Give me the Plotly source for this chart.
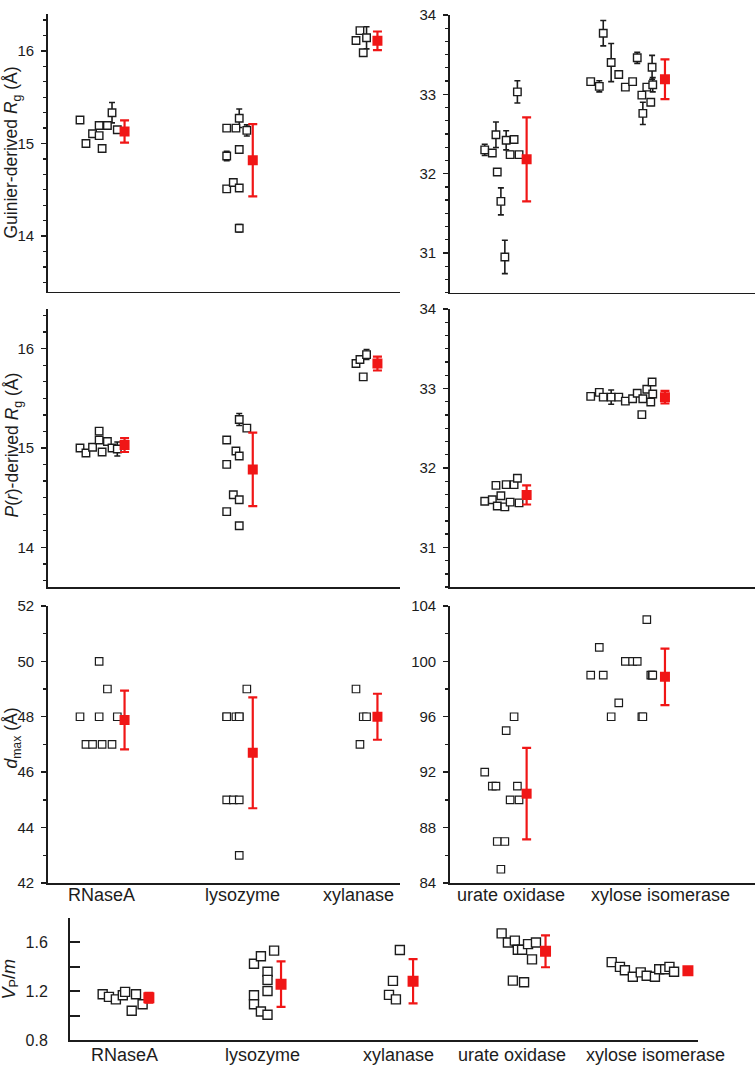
import plotly.graph_objects as go

# ---------------- DATA ----------------
left_proteins = ["RNaseA", "lysozyme", "xylanase"]
right_proteins = ["urate oxidase", "xylose isomerase"]
all_proteins = ["RNaseA", "lysozyme", "xylanase", "urate oxidase", "xylose isomerase"]

# dataset (lab) position inside each protein group, panels 1-3
rnase_slot = [0, 1.8, 3.8, 5.8, 5.8, 6.7, 8.3, 9.7, 11.3]
lyso_slot = [0, 0, 0, 2, 2.8, 3.8, 3.8, 3.8, 3.8, 6.1]
xylan_slot = [0, 1.2, 2.2, 3.2]
urate_slot = [0, 2.3, 3.4, 3.8, 4.9, 6.1, 6.5, 7.7, 8.9, 9.9, 10.4]
xyliso_slot = [0, 2.6, 3.8, 6.2, 8.5, 10.5, 12.7, 14.1, 15.5, 15.8, 17, 18.2, 18.6, 18.8]

# Guinier-derived Rg (A)
rnase_guinier = [15.255, 15.00, 15.106, 15.195, 15.085, 14.947, 15.195, 15.333, 15.149]
rnase_guinier_err = [0.03, 0.02, 0.02, 0.04, 0.03, 0.03, 0.03, 0.11, 0.03]
lyso_guinier = [15.167, 14.865, 14.51, 14.58, 15.167, 15.273, 14.936, 14.52, 14.085, 15.142]
lyso_guinier_err = [0.02, 0.05, 0.03, 0.04, 0.03, 0.10, 0.03, 0.03, 0.04, 0.06]
xylan_guinier = [16.113, 16.22, 15.98, 16.142]
xylan_guinier_err = [0.03, 0.03, 0.03, 0.12]
urate_guinier = [32.30, 32.26, 32.49, 32.02, 31.65, 30.95, 32.42, 32.24, 32.43, 33.03, 32.24]
urate_guinier_err = [0.07, 0.04, 0.16, 0.04, 0.17, 0.21, 0.12, 0.04, 0.04, 0.14, 0.03]
xyliso_guinier = [33.16, 33.10, 33.77, 33.40, 33.25, 33.09, 33.16, 33.46, 32.99, 32.76, 33.09, 32.90, 33.34, 33.12]
xyliso_guinier_err = [0.03, 0.07, 0.16, 0.24, 0.03, 0.03, 0.03, 0.07, 0.04, 0.14, 0.04, 0.04, 0.15, 0.09]
guinier_mean = [15.13, 14.82, 16.11, 32.18, 33.19]
guinier_sd = [0.12, 0.39, 0.10, 0.53, 0.25]

# P(r)-derived Rg (A)
rnase_pr = [15.0, 14.95, 15.007, 15.17, 15.08, 14.96, 15.066, 15.0, 14.99]
rnase_pr_err = [0.02, 0.02, 0.02, 0.03, 0.02, 0.02, 0.02, 0.02, 0.07]
lyso_pr = [15.08, 14.835, 14.36, 14.53, 14.97, 15.287, 14.92, 14.48, 14.218, 15.20]
lyso_pr_err = [0.02, 0.03, 0.02, 0.03, 0.02, 0.06, 0.02, 0.02, 0.02, 0.03]
xylan_pr = [15.85, 15.89, 15.716, 15.94]
xylan_pr_err = [0.02, 0.02, 0.02, 0.05]
urate_pr = [31.58, 31.60, 31.78, 31.52, 31.65, 31.51, 31.79, 31.57, 31.79, 31.87, 31.56]
urate_pr_err = [0.02, 0.02, 0.03, 0.02, 0.03, 0.02, 0.02, 0.02, 0.02, 0.03, 0.02]
xyliso_pr = [32.90, 32.95, 32.89, 32.89, 32.89, 32.84, 32.87, 32.94, 32.67, 32.87, 32.99, 32.83, 33.08, 32.93]
xyliso_pr_err = [0.03, 0.02, 0.02, 0.09, 0.02, 0.02, 0.02, 0.02, 0.02, 0.03, 0.03, 0.02, 0.03, 0.02]
pr_mean = [15.03, 14.785, 15.85, 31.66, 32.89]
pr_sd = [0.07, 0.37, 0.07, 0.12, 0.08]

# dmax (A)
rnase_dmax = [48, 47, 47, 50, 48, 47, 49, 47, 48]
lyso_dmax = [48, 48, 45, 45, 48, 48, 45, 43, 48, 49]
xylan_dmax = [49, 47, 48, 48]
urate_dmax = [92, 91, 91, 87, 85, 87, 95, 90, 96, 91, 90]
xyliso_dmax = [99, 101, 99, 96, 97, 100, 100, 100, 96, 96, 103, 99, 99, 99]
dmax_mean = [47.88, 46.7, 48.0, 90.45, 98.88]
dmax_sd = [1.06, 2.0, 0.83, 3.3, 2.04]

# Vp/m (bottom panel)
rnase_vpm_slot = [0, 1.9, 4, 6.1, 6.8, 8.8, 10.1, 12.1]
rnase_vpm = [1.176, 1.155, 1.134, 1.168, 1.195, 1.041, 1.176, 1.094]
lyso_vpm_slot = [0, 0, 0, 2.1, 2.1, 4.1, 4.1, 4.1, 4.1, 6.1]
lyso_vpm = [1.425, 1.168, 1.094, 1.486, 1.036, 1.359, 1.293, 1.203, 1.009, 1.531]
xylan_vpm_slot = [0, 1.2, 2.1, 3.3]
xylan_vpm = [1.171, 1.285, 1.134, 1.536]
urate_vpm_slot = [0, 1.9, 3.4, 4, 4.9, 6.2, 6.8, 8, 9.2, 10.4]
urate_vpm = [1.672, 1.597, 1.287, 1.613, 1.539, 1.539, 1.274, 1.584, 1.46, 1.597]
xyliso_vpm_slot = [0, 2.5, 4, 6.4, 8.8, 10.6, 13.1, 14.4, 16.2, 17.5, 18.9]
xyliso_vpm = [1.438, 1.399, 1.372, 1.319, 1.354, 1.327, 1.319, 1.380, 1.380, 1.399, 1.359]
vpm_mean = [1.147, 1.258, 1.282, 1.526, 1.367]
vpm_sd = [0.04, 0.185, 0.18, 0.13, 0.03]

# ---------------- LAYOUT CONSTANTS ----------------
W, H = 756, 1074
SLOT_PX = 3.3
FONT = "Liberation Sans, Arial, sans-serif"
INK = "#1c1c1c"
RED = "#f01616"

LEFT_BASE = [9.70, 54.15, 93.33]
LEFT_RED = [13.5, 7.9, 6.5]
RIGHT_BASE = [10.52, 42.64]
RIGHT_RED = [12.7, 22.5]
BOT_BASE = [9.9, 55.75, 96.66, 130.8, 164.15]
BOT_RED = [14.0, 8.2, 7.3, 13.3, 23.1]


def xd(a, b):
    return [a / W, b / W]


def yd(top, bot):
    return [1 - bot / H, 1 - top / H]


fig = go.Figure()


def add_group(k, base, slots, vals, errs, red_off, mean, sd, msize=7.5, rsize=10, lw=1.4):
    ax = "" if k == 1 else str(k)
    xs = [base + s for s in slots]
    ey = dict(type="data", array=errs, color=INK, thickness=1.6, width=3) if errs else dict(visible=False)
    fig.add_trace(go.Scatter(
        x=xs, y=vals, mode="markers", xaxis="x" + ax, yaxis="y" + ax,
        marker=dict(symbol="square", size=msize, color="white", line=dict(color=INK, width=lw)),
        error_y=ey, showlegend=False, hoverinfo="skip"))
    fig.add_trace(go.Scatter(
        x=[base + red_off], y=[mean], mode="markers", xaxis="x" + ax, yaxis="y" + ax,
        marker=dict(symbol="square", size=rsize, color=RED, line=dict(width=0)),
        error_y=dict(type="data", array=[sd], color=RED, thickness=2.2, width=4.5),
        showlegend=False, hoverinfo="skip"))


# panel 1 (Guinier)
L_g = [(rnase_slot, rnase_guinier, rnase_guinier_err), (lyso_slot, lyso_guinier, lyso_guinier_err),
       (xylan_slot, xylan_guinier, xylan_guinier_err)]
R_g = [(urate_slot, urate_guinier, urate_guinier_err), (xyliso_slot, xyliso_guinier, xyliso_guinier_err)]
for i, (s, v, e) in enumerate(L_g):
    add_group(1, LEFT_BASE[i], s, v, e, LEFT_RED[i], guinier_mean[i], guinier_sd[i])
for i, (s, v, e) in enumerate(R_g):
    add_group(2, RIGHT_BASE[i], s, v, e, RIGHT_RED[i], guinier_mean[3 + i], guinier_sd[3 + i])

# panel 2 (P(r))
L_p = [(rnase_slot, rnase_pr, rnase_pr_err), (lyso_slot, lyso_pr, lyso_pr_err), (xylan_slot, xylan_pr, xylan_pr_err)]
R_p = [(urate_slot, urate_pr, urate_pr_err), (xyliso_slot, xyliso_pr, xyliso_pr_err)]
for i, (s, v, e) in enumerate(L_p):
    add_group(3, LEFT_BASE[i], s, v, e, LEFT_RED[i], pr_mean[i], pr_sd[i])
for i, (s, v, e) in enumerate(R_p):
    add_group(4, RIGHT_BASE[i], s, v, e, RIGHT_RED[i], pr_mean[3 + i], pr_sd[3 + i])

# panel 3 (dmax)
L_d = [(rnase_slot, rnase_dmax), (lyso_slot, lyso_dmax), (xylan_slot, xylan_dmax)]
R_d = [(urate_slot, urate_dmax), (xyliso_slot, xyliso_dmax)]
for i, (s, v) in enumerate(L_d):
    add_group(5, LEFT_BASE[i], s, v, None, LEFT_RED[i], dmax_mean[i], dmax_sd[i], lw=1.2)
for i, (s, v) in enumerate(R_d):
    add_group(6, RIGHT_BASE[i], s, v, None, RIGHT_RED[i], dmax_mean[3 + i], dmax_sd[3 + i], lw=1.2)

# bottom (Vp/m)
B_v = [(rnase_vpm_slot, rnase_vpm), (lyso_vpm_slot, lyso_vpm), (xylan_vpm_slot, xylan_vpm),
       (urate_vpm_slot, urate_vpm), (xyliso_vpm_slot, xyliso_vpm)]
for i, (s, v) in enumerate(B_v):
    add_group(7, BOT_BASE[i], s, v, None, BOT_RED[i], vpm_mean[i], vpm_sd[i], msize=9, rsize=11, lw=1.4)

# ---------------- AXES ----------------
panels = [
    # k, x px, y px (top,bottom), yrange, dtick, tick0, minor dtick
    (1, (48, 400), (5, 287.5), (13.4, 16.4), 1, 14, 1 / 6),
    (2, (450, 755), (6, 288.5), (30.5, 34.0005), 1, 31, 1 / 6),
    (3, (48, 400), (305, 588), (13.6, 16.4), 1, 14, 1 / 6),
    (4, (450, 755), (305, 588), (30.5, 34.0005), 1, 31, 1 / 6),
    (5, (48, 400), (607, 889), (42, 52.0005), 2, 42, 1),
    (6, (450, 755), (607, 889), (84, 104.0005), 4, 84, 2),
]
layout = {}
for k, (x0, x1), (t, b), yr, dt, t0, mdt in panels:
    ax = "" if k == 1 else str(k)
    layout["xaxis" + ax] = dict(
        domain=xd(x0, x1), range=[0, (x1 - x0) / SLOT_PX], anchor="y" + ax,
        showline=True, linecolor=INK, linewidth=1.8, showticklabels=False, ticks="",
        showgrid=False, zeroline=False, fixedrange=True)
    layout["yaxis" + ax] = dict(
        domain=yd(t, b), range=list(yr), anchor="x" + ax,
        showline=True, linecolor=INK, linewidth=1.8, ticks="outside", ticklen=5, tickwidth=1.5,
        tickcolor=INK, dtick=dt, tick0=t0, tickfont=dict(family=FONT, size=15, color=INK),
        minor=dict(dtick=mdt, tick0=t0, ticks="outside", ticklen=3, tickwidth=1.3, tickcolor=INK),
        showgrid=False, zeroline=False, fixedrange=True, ticklabelstandoff=4)

layout["xaxis7"] = dict(
    domain=xd(70, 698), range=[0, (698 - 70) / SLOT_PX], anchor="y7",
    showline=True, linecolor=INK, linewidth=2, showticklabels=False, ticks="",
    showgrid=False, zeroline=False, fixedrange=True)
layout["yaxis7"] = dict(
    domain=yd(924, 1049), range=[0.8, 1.801], anchor="x7",
    showline=True, linecolor=INK, linewidth=2, ticks="inside", ticklen=10, tickwidth=2, tickcolor=INK,
    dtick=0.4, tick0=0.8, tickformat=".1f", tickfont=dict(family=FONT, size=16, color=INK),
    minor=dict(dtick=0.2, tick0=0.8, ticks="inside", ticklen=10, tickwidth=2, tickcolor=INK),
    showgrid=False, zeroline=False, fixedrange=True, ticklabelstandoff=17)

# ---------------- TEXT ----------------
ann = []


def label(text, xpx, ypx, size=18, angle=0):
    ann.append(dict(text=text, x=xpx / W, y=1 - ypx / H, xref="paper", yref="paper",
                    showarrow=False, xanchor="center", yanchor="middle", textangle=angle,
                    font=dict(family=FONT, size=size, color=INK)))


label("Guinier-derived <i>R</i><sub>g</sub> (Å)", 13, 146, size=17.5, angle=-90)
label("<i>P</i>(<i>r</i>)-derived <i>R</i><sub>g</sub> (Å)", 14, 444, size=17.5, angle=-90)
label("<i>d</i><sub>max</sub> (Å)", 13, 742, size=17.5, angle=-90)
label("<i>V</i><sub>P</sub>/<i>m</i>", 10, 987, size=18, angle=-90)

for name, xp in zip(left_proteins, [101, 242, 358]):
    label(name, xp, 901)
for name, xp in zip(right_proteins, [511, 660]):
    label(name, xp, 901)
for name, xp in zip(all_proteins, [124, 262, 398, 512, 655]):
    label(name, xp, 1064)

fig.update_layout(
    width=W, height=H, margin=dict(l=0, r=0, t=0, b=0),
    paper_bgcolor="white", plot_bgcolor="white",
    font=dict(family=FONT, color=INK), annotations=ann, showlegend=False, **layout)

fig.write_html("out.html", config={"displayModeBar": False, "staticPlot": True},
               post_script="document.body.style.margin='0px';document.body.style.overflow='hidden';")
